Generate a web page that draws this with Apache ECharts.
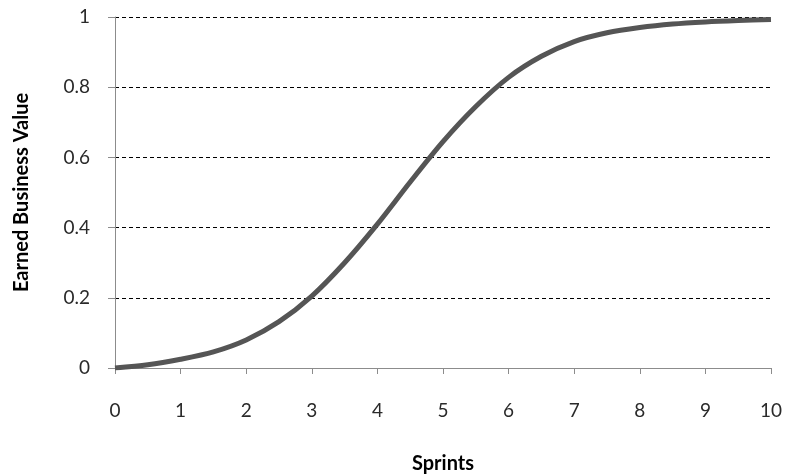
<!DOCTYPE html>
<html>
<head>
<meta charset="utf-8">
<script src="https://cdn.jsdelivr.net/npm/echarts@6/dist/echarts.min.js"></script>
<style>
html,body{margin:0;padding:0;background:#fff;}
#chart{width:787px;height:475px;}
</style>
</head>
<body>
<div id="chart"></div>
<script>
const sprints = [0,0.5,1,1.5,2,2.5,3,3.5,4,4.5,5,5.5,6,6.5,7,7.5,8,8.5,9,9.5,10];
const earnedValue = [0,0.009,0.025,0.046,0.08,0.132,0.205,0.30,0.41,0.53,0.645,0.745,0.828,0.888,0.93,0.955,0.97,0.98,0.986,0.99,0.993];
const xTitle = 'Sprints';
const yTitle = 'Earned Business Value';

const chart = echarts.init(document.getElementById('chart'), null, {renderer:'canvas'});
const font = 'Lato, "Open Sans", sans-serif';
chart.setOption({
  animation:false,
  backgroundColor:'#fff',
  grid:{left:115,right:16,top:17,bottom:107,containLabel:false,outerBoundsMode:'none'},
  xAxis:{
    type:'value',min:0,max:10,interval:1,
    name:xTitle,nameLocation:'middle',nameGap:86,
    nameTextStyle:{fontFamily:font,fontSize:20,fontWeight:'bold',color:'#000'},
    axisLine:{lineStyle:{color:'#8c8c8c',width:1}},
    axisTick:{show:true,length:6,lineStyle:{color:'#8c8c8c'}},
    axisLabel:{fontFamily:font,fontSize:19,color:'#2a2a2a',margin:33},
    splitLine:{show:false}
  },
  yAxis:{
    type:'value',min:0,max:1,interval:0.2,
    name:yTitle,nameLocation:'middle',nameGap:83,
    nameTextStyle:{fontFamily:font,fontSize:20,fontWeight:'bold',color:'#000'},
    axisLine:{show:true,lineStyle:{color:'#8c8c8c',width:1}},
    axisTick:{show:true,length:7,lineStyle:{color:'#8c8c8c'}},
    axisLabel:{fontFamily:font,fontSize:19,color:'#2a2a2a',margin:25},
    splitLine:{show:true,lineStyle:{color:'#000',type:[4,3],width:1}}
  },
  series:[{
    type:'line',
    data:sprints.map((x,i)=>[x,earnedValue[i]]),
    smooth:0.3,
    showSymbol:false,
    lineStyle:{color:'#555',width:5},
    itemStyle:{color:'#555'}
  }]
});
</script>
</body>
</html>
